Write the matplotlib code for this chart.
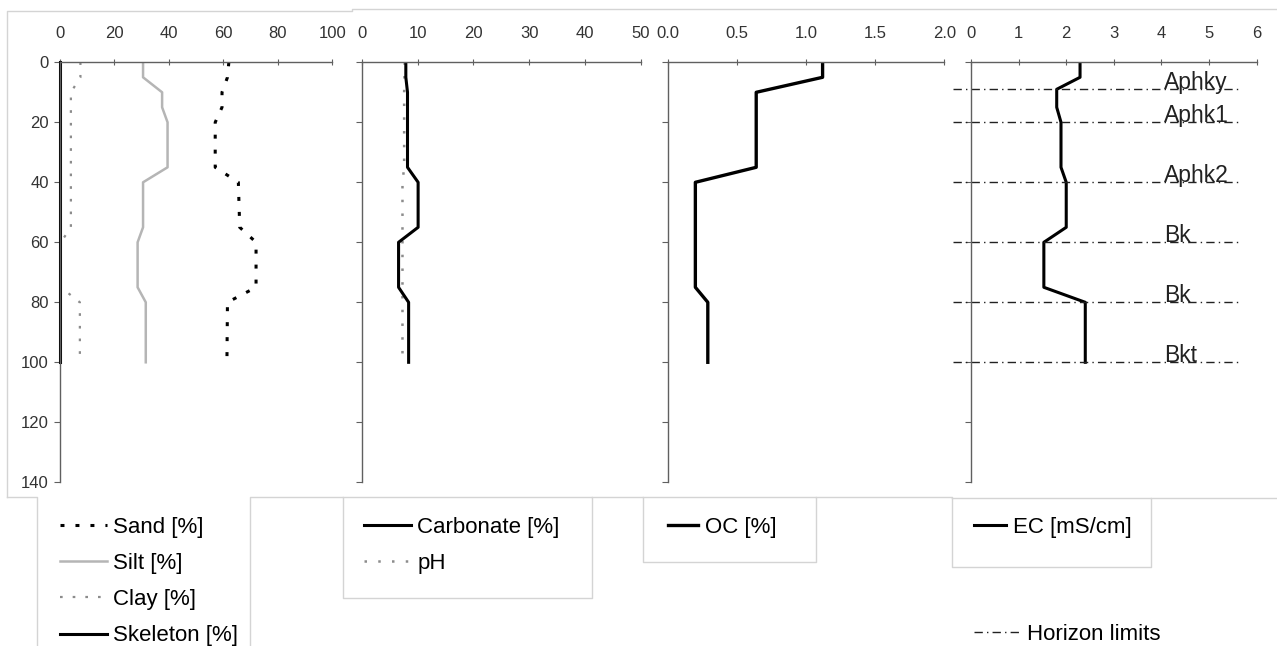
import numpy as np
import matplotlib
matplotlib.use("Agg")
from matplotlib import pyplot as plt
from matplotlib.lines import Line2D

plt.rcParams['font.family'] = ['Liberation Sans', 'DejaVu Sans']

# ---- data (depth in cm) ----
sand_depth = [0, 5, 10, 15, 20, 35, 40, 55, 60, 75, 80, 100]
sand = [62, 61.5, 59.5, 59.5, 57, 57, 65.5, 66, 72, 72, 61.5, 61.3]
silt_depth = [0, 5, 10, 15, 20, 35, 40, 55, 60, 75, 80, 100]
silt = [30.5, 30.5, 37.5, 37.5, 39.5, 39.5, 30.5, 30.5, 28.5, 28.5, 31.5, 31.5]
clay_depth = [0, 5, 10, 55, 60, 75, 80, 100]
clay = [7.5, 7.5, 4, 4, 0.3, 0.3, 7.3, 7.3]
skel_depth = [0, 100]
skeleton = [0, 0]

carb_depth = [0, 5, 10, 35, 40, 55, 60, 75, 80, 100]
carbonate = [7.9, 7.9, 8.2, 8.2, 10.1, 10.1, 6.6, 6.6, 8.4, 8.4]
ph_depth = [0, 10, 35, 40, 60, 80, 100]
ph = [7.7, 7.6, 7.6, 7.3, 7.3, 7.3, 7.3]

oc_depth = [0, 5, 10, 35, 40, 75, 80, 100]
oc = [1.12, 1.12, 0.64, 0.64, 0.2, 0.2, 0.29, 0.29]

ec_depth = [0, 5, 9, 15, 20, 35, 40, 55, 60, 75, 80, 100]
ec = [2.29, 2.29, 1.8, 1.8, 1.89, 1.89, 2.0, 2.0, 1.53, 1.53, 2.4, 2.4]

horizon_depth = [9, 20, 40, 60, 80, 100]
horizon_names = ["Aphky", "Aphk1", "Aphk2", "Bk", "Bk", "Bkt"]

W, H = 1277, 646
fig = plt.figure(figsize=(W / 100, H / 100), dpi=100)


def fx(x):
    return x / W


def fy(y):
    return 1 - y / H


def px_line(xs, ys):
    fig.add_artist(Line2D([fx(x) for x in xs], [fy(y) for y in ys],
                          transform=fig.transFigure, color='#d4d4d4', lw=1))


# faint borders of the original chart areas / legend boxes
px_line([7, 7, 352, 352, 1277], [497, 11, 11, 9, 9])
px_line([7, 37, 37], [497, 497, 646])
px_line([250, 250, 343, 343, 592, 592, 343], [646, 497, 497, 598, 598, 497, 497])
px_line([592, 643, 643, 816, 816, 643], [497, 497, 562, 562, 497, 497])
px_line([816, 952, 952, 1151, 1151, 952], [497, 497, 567, 567, 498, 498])
px_line([1151, 1277], [498, 498])

top, bottom = 62.3, 482.3
panels = [(60, 332.3), (361.7, 641), (667.7, 944.3), (971, 1256.7)]
axes = []
for l, r in panels:
    ax = fig.add_axes([fx(l), fy(bottom), (r - l) / W, (bottom - top) / H])
    ax.set_ylim(140, 0)
    ax.set_yticks(np.arange(0, 141, 20))
    for s in ['right', 'bottom']:
        ax.spines[s].set_visible(False)
    for s in ['top', 'left']:
        ax.spines[s].set_color('#606060')
        ax.spines[s].set_linewidth(1)
    ax.xaxis.tick_top()
    ax.tick_params(axis='x', direction='inout', length=4, pad=13, labelsize=12,
                   colors='#606060', labelcolor='#333333')
    ax.tick_params(axis='y', direction='out', length=4, pad=4, labelsize=12,
                   colors='#606060', labelcolor='#333333')
    ax.patch.set_alpha(0)
    axes.append(ax)

ax1, ax2, ax3, ax4 = axes
for ax in (ax2, ax3, ax4):
    ax.tick_params(axis='y', labelleft=False)

# panel 1 - texture
ax1.set_xlim(0, 100)
ax1.set_xticks(np.arange(0, 101, 20))
h_sand, = ax1.plot(sand, sand_depth, color='black', lw=2.2, ls=(0, (1.3, 3.6)), label='Sand [%]')
h_silt, = ax1.plot(silt, silt_depth, color='#b5b5b5', lw=1.8, label='Silt [%]')
h_clay, = ax1.plot(clay, clay_depth, color='#8c8c8c', lw=1.6, ls=(0, (1.2, 4.5)), label='Clay [%]')
h_skel, = ax1.plot(skeleton, skel_depth, color='black', lw=2.2, clip_on=False, label='Skeleton [%]')

# panel 2 - carbonate, pH
ax2.set_xlim(0, 50)
ax2.set_xticks(np.arange(0, 51, 10))
h_ph, = ax2.plot(ph, ph_depth, color='#8c8c8c', lw=1.8, ls=(0, (1, 4.5)), label='pH')
h_carb, = ax2.plot(carbonate, carb_depth, color='black', lw=2.2, label='Carbonate [%]')

# panel 3 - OC
ax3.set_xlim(0, 2)
ax3.set_xticks(np.arange(0, 2.01, 0.5))
ax3.xaxis.set_major_formatter(matplotlib.ticker.FormatStrFormatter('%.1f'))
h_oc, = ax3.plot(oc, oc_depth, color='black', lw=2.4, label='OC [%]')

# panel 4 - EC and horizons
ax4.set_xlim(0, 6)
ax4.set_xticks(np.arange(0, 7, 1))
h_ec, = ax4.plot(ec, ec_depth, color='black', lw=2.2, label='EC [mS/cm]')
for d, name in zip(horizon_depth, horizon_names):
    h_hor, = ax4.plot([-0.38, 5.6], [d, d], color='#222222', lw=1,
                      ls=(0, (6, 3, 1, 3)), clip_on=False, label='Horizon limits')
    ax4.text(4.05, d, name, fontsize=16.5, color='#222222', va='baseline', ha='left')

leg_kw = dict(loc='upper left', frameon=False, fontsize=16, borderpad=0,
              borderaxespad=0, labelspacing=0.68, handletextpad=0.3)
fig.legend([h_sand, h_silt, h_clay, h_skel], ['Sand [%]', 'Silt [%]', 'Clay [%]', 'Skeleton [%]'],
           bbox_to_anchor=(fx(60), fy(517)), handlelength=2.1, **leg_kw)
fig.legend([h_carb, h_ph], ['Carbonate [%]', 'pH'],
           bbox_to_anchor=(fx(364), fy(517)), handlelength=2.1, **leg_kw)
fig.legend([h_oc], ['OC [%]'],
           bbox_to_anchor=(fx(668), fy(517)), handlelength=1.35, **leg_kw)
fig.legend([h_ec], ['EC [mS/cm]'],
           bbox_to_anchor=(fx(974), fy(517)), handlelength=1.45, **leg_kw)
fig.legend([h_hor], ['Horizon limits'],
           bbox_to_anchor=(fx(974), fy(624)), handlelength=2.1, **leg_kw)

fig.savefig('out.png', dpi=100)
